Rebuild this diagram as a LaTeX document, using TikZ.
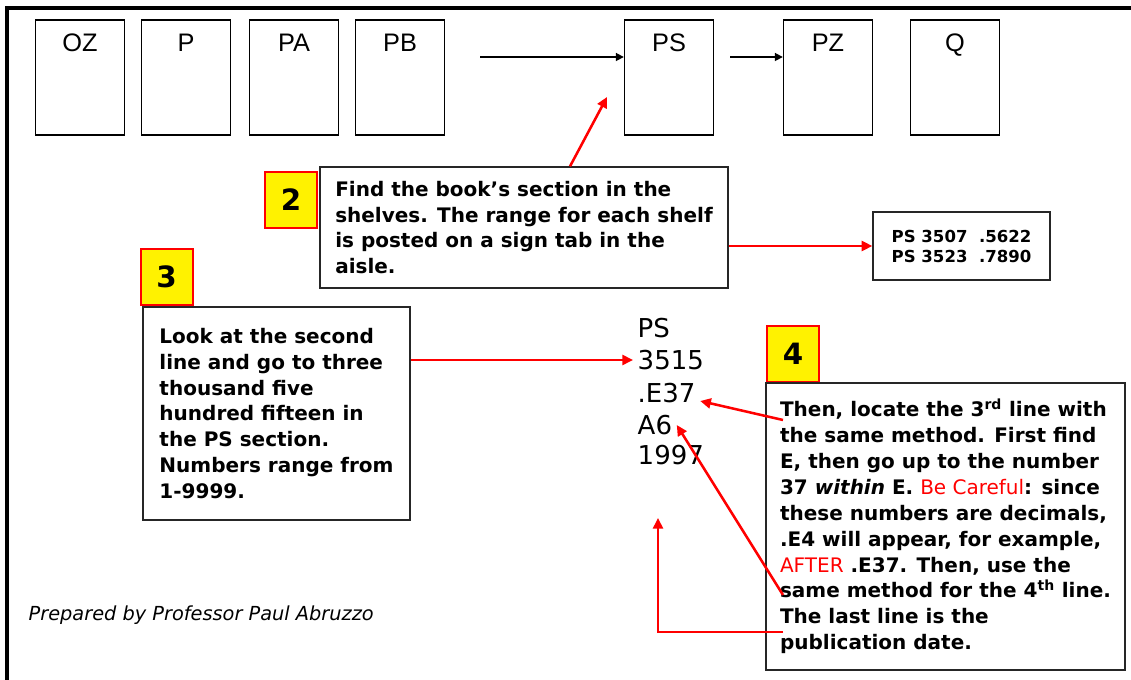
\documentclass[tikz,border=0pt]{standalone}
\usepackage{fontspec}
\setmainfont{DejaVu Sans}
\newfontfamily\shelffont{Liberation Sans}
\usetikzlibrary{positioning,arrows.meta}
\tikzset{
  shelf/.style={draw, line width=1pt, minimum width=66.75pt, minimum height=86.25pt, inner sep=0pt},
  shelflabel/.style={inner sep=0pt, font=\shelffont\fontsize{19}{19}\selectfont},
  stepnum/.style={fill=yellow, draw=red, line width=1.5pt, minimum width=39pt, minimum height=42pt, inner sep=0pt, font=\bfseries\fontsize{22}{22}\selectfont},
  infobox/.style={draw=black!85, line width=1pt, align=left, font=\bfseries\fontsize{15}{19.4}\selectfont},
  callno/.style={anchor=west, font=\fontsize{19.5}{19.5}\selectfont},
  redarrow/.style={red, line width=1.9pt, -{Triangle[length=8pt,width=7.5pt]}},
  blackarrow/.style={black, line width=1.2pt, -{Triangle[length=6pt,width=6pt]}}
}
\begin{document}
\begin{tikzpicture}[x=0.75pt,y=-0.75pt]
\useasboundingbox (0,0) rectangle (1131,680);
\draw[line width=2.4pt] (7,680) -- (7,8) -- (1131,8);

\foreach \nm/\lbl/\xx in {oz/OZ/80, p/P/186, pa/PA/294, pb/PB/400, ps/PS/669, pz/PZ/828, q/Q/955}{
  \node[shelf] (\nm) at (\xx,77.5) {};
  \node[shelflabel, below=11pt of \nm.north] (\nm-lbl) {\lbl};
}
\coordinate (gap1) at (480,57);
\coordinate (gap2) at (730,57);
\draw[blackarrow] (gap1) -- (ps.west |- gap1);
\draw[blackarrow] (gap2) -- (pz.west |- gap2);

\node[stepnum] (num2) at (291,200) {2};
\node[infobox, minimum width=306pt, minimum height=90.75pt] (info2) at (524,227.5) {Find the book’s section in the\\shelves. The range for each shelf\\is posted on a sign tab in the\\aisle.};
\node[draw=black!85, line width=1pt, minimum width=132.75pt, minimum height=51pt, align=left, font=\bfseries\fontsize{12.4}{15}\selectfont] (range) at (961.5,246) {PS 3507\ \ .5622\\PS 3523\ \ .7890};
\coordinate (psin) at (607,97);
\draw[redarrow] ([xshift=34.5pt]info2.north) -- (psin);
\draw[redarrow] (info2.east |- range.west) -- (range.west);

\node[stepnum] (num3) at (166.5,277) {3};
\node[infobox, minimum width=200.25pt, minimum height=159.75pt] (info3) at (276.5,413.5) {Look at the second\\line and go to three\\thousand five\\hundred fifteen in\\the PS section.\\Numbers range from\\1-9999.};

\node[callno] (cn1) at (633,328) {PS};
\node[callno] (cn2) at (633,360) {3515};
\node[callno] (cn3) at (633,393) {.E37};
\node[callno] (cn4) at (633,425) {A6};
\node[callno] (cn5) at (633,455) {1997};
\draw[redarrow] (info3.east |- cn2.west) -- (cn2.west);

\node[stepnum] (num4) at (793,354) {4};
\node[infobox, minimum width=269.25pt, minimum height=215.25pt] (info4) at (945.5,526.5) {Then, locate the 3\textsuperscript{rd} line with\\the same method. First find\\E, then go up to the number\\37 \textit{within} E. {\mdseries\color{red}Be Careful}: since\\these numbers are decimals,\\.E4 will appear, for example,\\{\mdseries\color{red}AFTER} .E37. Then, use the\\same method for the 4\textsuperscript{th} line.\\The last line is the\\publication date.};
\coordinate (e37from) at (783,420);
\coordinate (a6from) at (783,595);
\coordinate (datefrom) at (783,632);
\coordinate (dateto) at (658,518);
\draw[redarrow] (e37from) -- ([yshift=-6pt]cn3.east);
\draw[redarrow] (a6from) -- (cn4.east);
\draw[redarrow] (datefrom) -| (dateto);

\node[anchor=west, font=\itshape\fontsize{14.5}{14.5}\selectfont] (credit) at (24,615) {Prepared by Professor Paul Abruzzo};
\end{tikzpicture}
\end{document}
